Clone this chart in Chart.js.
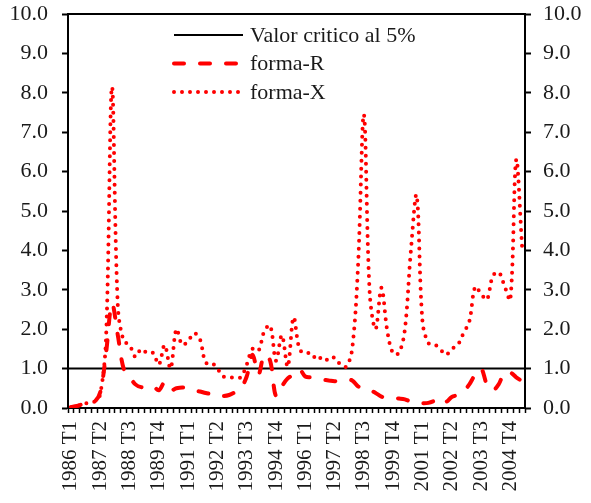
<!DOCTYPE html>
<html>
<head>
<meta charset="utf-8">
<script src="https://cdn.jsdelivr.net/npm/chart.js@4"></script>
<style>
  html, body { margin: 0; padding: 0; background: #fff; }
</style>
</head>
<body>
<canvas id="chart" width="591" height="503"></canvas>
<script>
// Quarterly categories, 1986 T1 .. 2005 T2
const years = [1986, 1987, 1988, 1989, 1990, 1991, 1992, 1993, 1994, 1995,
               1996, 1997, 1998, 1999, 2000, 2001, 2002, 2003, 2004, 2005];
const quarters = ['T1', 'T2', 'T3', 'T4'];
const nQuarters = 78;
const labelEvery = 5;

const labels = [];
years.forEach(y => quarters.forEach(q => labels.push(y + ' ' + q)));
labels.length = nQuarters;

// 5% critical value
const criticalValue = 1.0;

// forma-R (dashed)
const formaR = [
  0.02, 0.05, 0.10, 0.15, 0.16, 0.40, 1.40, 2.65, 1.85, 1.00,
  0.80, 0.60, 0.53, 0.54, 0.56, 0.45, 0.65, 0.45, 0.50, 0.52,
  0.50, 0.45, 0.42, 0.38, 0.35, 0.30, 0.30, 0.33, 0.40, 0.50,
  0.80, 1.35, 0.85, 1.35, 1.20, 0.30, 0.55, 0.75, 0.85, 0.98,
  0.80, 0.78, 0.75, 0.72, 0.70, 0.68, 0.70, 0.72, 0.70, 0.55,
  0.48, 0.46, 0.38, 0.29, 0.26, 0.25, 0.24, 0.22, 0.16, 0.12,
  0.12, 0.13, 0.18, 0.26, 0.16, 0.28, 0.33, 0.42, 0.60, 0.85,
  1.00, 0.60, 0.45, 0.60, 0.90, 0.90, 0.78, 0.68
];

// forma-X (dotted)
const formaX = [
  0.02, 0.05, 0.10, 0.13, 0.16, 0.35, 1.80, 8.15, 2.60, 1.70,
  1.60, 1.30, 1.50, 1.40, 1.40, 1.10, 1.60, 1.00, 2.00, 1.60,
  1.70, 1.90, 1.75, 1.15, 1.15, 1.00, 0.80, 0.78, 0.77, 0.78,
  1.10, 1.50, 1.45, 1.95, 2.10, 1.20, 1.85, 1.05, 2.30, 1.50,
  1.38, 1.40, 1.22, 1.30, 1.20, 1.28, 1.10, 1.05, 1.50, 3.60,
  7.45, 2.90, 2.00, 3.05, 1.95, 1.38, 1.40, 2.00, 3.95, 5.40,
  2.20, 1.65, 1.62, 1.50, 1.35, 1.50, 1.60, 1.90, 2.20, 3.08,
  2.90, 2.75, 3.35, 3.45, 3.10, 2.75, 6.30, 4.10
];

const serif = 'Liberation Serif';
const textColor = '#1a1a1a';

// legend drawn inside the plot + top frame line
const boxLegend = {
  id: 'boxLegend',
  afterDraw(chart) {
    const ctx = chart.ctx;
    const area = chart.chartArea;
    const x0 = area.left + 105;
    const y0 = area.top + 21;
    const row = 28.5;
    ctx.save();
    chart.data.datasets.forEach((ds, i) => {
      const y = y0 + i * row;
      ctx.beginPath();
      ctx.lineWidth = ds.borderWidth;
      ctx.strokeStyle = ds.borderColor;
      ctx.lineCap = ds.borderCapStyle || 'butt';
      ctx.setLineDash(ds.borderDash || []);
      ctx.moveTo(x0 + 1, y);
      ctx.lineTo(x0 + 70, y);
      ctx.stroke();
      ctx.setLineDash([]);
      ctx.fillStyle = textColor;
      ctx.font = '22px "' + serif + '"';
      ctx.textBaseline = 'middle';
      ctx.fillText(ds.label, x0 + 77, y + 1);
    });
    ctx.beginPath();
    ctx.lineWidth = 2;
    ctx.strokeStyle = '#000';
    ctx.lineCap = 'butt';
    ctx.moveTo(area.left - 1, area.top);
    ctx.lineTo(area.right + 1, area.top);
    ctx.stroke();
    ctx.restore();
  }
};

const yTicks = (pad) => ({
  stepSize: 1,
  padding: pad,
  color: textColor,
  font: { family: serif, size: 22 },
  callback: v => v.toFixed(1)
});

const fixY = (w) => function (s) {
  s.width = w;
  s.paddingTop = 0;
  s.paddingBottom = 0;
};

const chart = new Chart(document.getElementById('chart').getContext('2d'), {
  type: 'line',
  data: {
    labels: labels,
    datasets: [{
      label: 'Valor critico al 5%',
      data: [{ x: 0, y: criticalValue }, { x: 1, y: criticalValue }],
      xAxisID: 'xl',
      borderColor: '#000',
      borderWidth: 2,
      pointRadius: 0,
      order: 3
    }, {
      label: 'forma-R',
      data: formaR,
      borderColor: '#ff0000',
      borderWidth: 4,
      borderDash: [10, 16],
      borderCapStyle: 'round',
      tension: 0.35,
      pointRadius: 0,
      order: 2
    }, {
      label: 'forma-X',
      data: formaX,
      borderColor: '#ff0000',
      borderWidth: 4,
      borderDash: [0, 8],
      borderCapStyle: 'round',
      tension: 0.35,
      pointRadius: 0,
      order: 1
    }]
  },
  options: {
    responsive: false,
    animation: false,
    devicePixelRatio: 1,
    layout: { padding: { top: 14, left: 0, right: 0, bottom: 0 } },
    plugins: { legend: { display: false }, tooltip: { enabled: false } },
    scales: {
      x: {
        type: 'category',
        offset: true,
        grid: { offset: true, drawOnChartArea: false, tickLength: 5, tickColor: '#000', tickWidth: 1.5 },
        border: { color: '#000', width: 2 },
        ticks: {
          autoSkip: false,
          minRotation: 90,
          maxRotation: 90,
          padding: 8,
          color: textColor,
          font: { family: serif, size: 21 },
          callback: (v, i) => (i % labelEvery === 0 ? labels[i] : '')
        },
        afterFit(s) {
          s.height = 95;
          s.paddingLeft = 0;
          s.paddingRight = 0;
        }
      },
      xl: { type: 'linear', display: false, min: 0, max: 1 },
      y: {
        position: 'left',
        min: 0,
        max: 10,
        grid: { drawOnChartArea: false, tickLength: 6, tickColor: '#000', tickWidth: 2 },
        border: { color: '#000', width: 2 },
        ticks: yTicks(14),
        afterFit: fixY(68)
      },
      y2: {
        position: 'right',
        min: 0,
        max: 10,
        grid: { drawOnChartArea: false, tickLength: 6, tickColor: '#000', tickWidth: 2 },
        border: { color: '#000', width: 2 },
        ticks: yTicks(12),
        afterFit: fixY(66)
      }
    }
  },
  plugins: [boxLegend]
});
</script>
</body>
</html>
